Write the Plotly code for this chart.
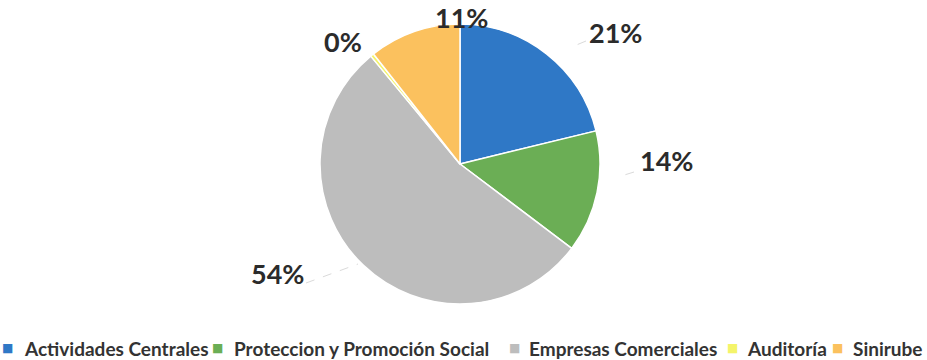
import plotly.graph_objects as go

# Budget share by area
areas = ["Actividades Centrales", "Proteccion y Promoción Social",
         "Empresas Comerciales", "Auditoría", "Sinirube"]
shares = [21.2, 14.1, 53.7, 0.4, 10.6]
colors = ["#2F78C6", "#6BAE55", "#BDBDBD", "#F4F46A", "#FBC15E"]

# Label anchor points (pixels in the 927x360 canvas) for each slice label
label_px = [(615, 32), (666, 160), (277, 273), (343, 41), (461, 17)]
# Legend entry start positions (pixels): swatch x, text x
legend_px = [(7, 22), (217, 232), (514, 527), (732, 745), (837, 851)]
legend_y = 348

W, H = 927, 360
total = sum(shares)

fig = go.Figure(go.Pie(
    labels=areas,
    values=shares,
    sort=False,
    direction="clockwise",
    rotation=0,
    marker=dict(colors=colors, line=dict(color="white", width=1.5)),
    textinfo="none",
    hoverinfo="label+percent",
    showlegend=False,
    domain=dict(x=[320 / W, 600 / W], y=[1 - 304 / H, 1 - 24 / H]),
))

annotations = []
for v, (px, py) in zip(shares, label_px):
    annotations.append(dict(
        text=f"{round(100 * v / total)}%",
        x=px / W, y=1 - py / H, xref="paper", yref="paper",
        xanchor="center", yanchor="middle", showarrow=False,
        font=dict(family="Lato", size=27, color="#2B2B2B", weight="bold"),
    ))

# legend drawn as swatch + label rows
for name, col, (sx, tx) in zip(areas, colors, legend_px):
    annotations.append(dict(
        text="■", x=sx / W, y=1 - legend_y / H, xref="paper", yref="paper",
        xanchor="center", yanchor="middle", showarrow=False,
        font=dict(family="DejaVu Sans", size=12, color=col),
    ))
    annotations.append(dict(
        text=name, x=tx / W, y=1 - legend_y / H, xref="paper", yref="paper",
        xanchor="left", yanchor="middle", showarrow=False,
        font=dict(family="Lato", size=19, color="#333333", weight="bold"),
    ))

# faint leader lines toward the slices
leaders = [((586, 41), (574, 46)), ((634, 172), (618, 177)), ((306, 283), (358, 264))]
shapes = []
for (x0, y0), (x1, y1) in leaders:
    shapes.append(dict(type="line", xref="paper", yref="paper",
                       x0=x0 / W, y0=1 - y0 / H, x1=x1 / W, y1=1 - y1 / H,
                       line=dict(color="#DADADA", width=1, dash="dash")))

fig.update_layout(
    width=W, height=H,
    margin=dict(l=0, r=0, t=0, b=0),
    paper_bgcolor="white",
    plot_bgcolor="white",
    annotations=annotations,
    shapes=shapes,
    showlegend=False,
)

fig.write_html("out.html")
